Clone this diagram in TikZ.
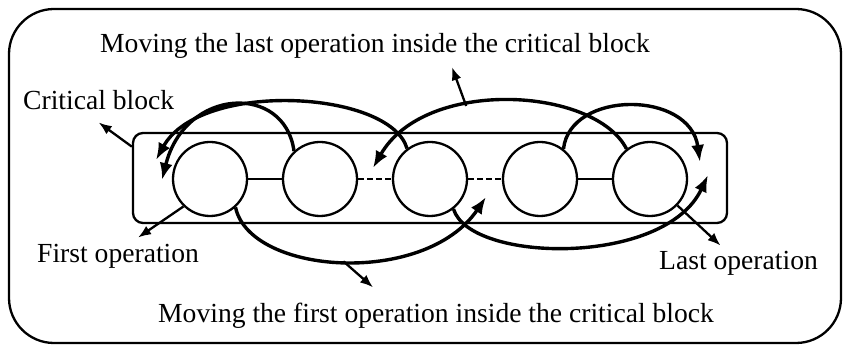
\documentclass[tikz,border=0pt]{standalone}
\usepackage{fontspec}
\setmainfont{Liberation Serif}
\usetikzlibrary{arrows.meta}

\begin{document}
\begin{tikzpicture}[x=1pt,y=1pt,
    op/.style={circle,draw,line width=2.3pt,minimum size=74pt,inner sep=0pt},
    move/.style={line width=3.4pt,-{Latex[length=17pt,width=13pt]}},
    note/.style={line width=2.3pt,-{Latex[length=13pt,width=10pt]}},
    lbl/.style={font=\fontsize{27.6}{32}\selectfont,anchor=base west,inner sep=0pt}]
\useasboundingbox (0,0) rectangle (843,345);
%frame
\draw[line width=2.3pt,rounded corners=45pt] (9,2) rectangle (841,336);
%critical block
\node[draw,line width=2.3pt,rounded corners=10pt,minimum width=594pt,minimum height=90pt,inner sep=0pt] (blk) at (430,167) {};
%operations
\foreach \i/\x in {1/210,2/320,3/430,4/540,5/650}
    \node[op] (c\i) at (\x,166) {};
\draw[line width=2.3pt] (c1) -- (c2);
\draw[line width=2.3pt,dash pattern=on 6pt off 3pt] (c2) -- (c3);
\draw[line width=2.3pt,dash pattern=on 6pt off 3pt] (c3) -- (c4);
\draw[line width=2.3pt] (c4) -- (c5);
%labels
\node[lbl] (tlast) at (100,292) {Moving the last operation inside the critical block};
\node[lbl] (tcrit) at (23,235) {Critical block};
\node[lbl] (tfop) at (37,82) {First operation};
\node[lbl] (tlop) at (659,75) {Last operation};
\node[lbl] (tfirst) at (158,22) {Moving the first operation inside the critical block};
%free ends
\coordinate (frontA) at (156,185);
\coordinate (frontB) at (162,165);
\coordinate (gap23) at (373,177);
\coordinate (gap34) at (486,148);
\coordinate (backA) at (700,183);
\coordinate (backB) at (708,170);
%moves above
\draw[move] (c2.133) .. controls (285,262) and (185,258) .. (frontB);
\draw[move] (c3.127) .. controls (390,255) and (200,265) .. (frontA);
\draw[move] (c5.128) .. controls (595,258) and (425,268) .. coordinate[pos=0.63] (mlast) (gap23);
\draw[move] (c4.52) .. controls (570,255) and (690,255) .. (backA);
%moves below
\draw[move] (c1.-48) .. controls (250,70) and (425,58) .. coordinate[pos=0.5] (mfirst) (gap34);
\draw[move] (c3.-52) .. controls (470,82) and (665,78) .. (backB);
%notes
\draw[note] (mlast) -- ([xshift=77pt,yshift=-8pt]tlast.south);
\draw[note] (blk.174) -- ([yshift=-12pt]tcrit.south);
\draw[note] (c1.226) -- ([xshift=20pt,yshift=7pt]tfop.north);
\draw[note] (c5.316) -- ([xshift=-18pt,yshift=6pt]tlop.north);
\draw[note] (mfirst) -- ([xshift=-63pt,yshift=16pt]tfirst.north);
\end{tikzpicture}
\end{document}
